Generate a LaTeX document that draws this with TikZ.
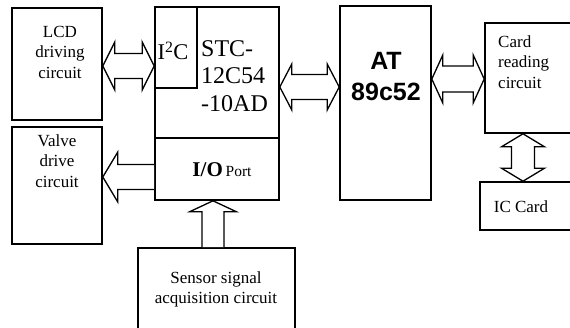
\documentclass[tikz,border=0pt]{standalone}
\usepackage{fontspec}
\setmainfont{Liberation Serif}
\setsansfont{Liberation Sans}
\usetikzlibrary{calc}

% hollow block arrows, given the two tips (or tail and tip)
% #3 shaft half width, #4 head half width, #5 head length
\newcommand{\blockdbl}[5]{%
  \draw[blockarrow] (#1)
    -- ($(#1)!#5!(#2)!#4!90:(#2)$) -- ($(#1)!#5!(#2)!#3!90:(#2)$)
    -- ($(#2)!#5!(#1)!#3!-90:(#1)$) -- ($(#2)!#5!(#1)!#4!-90:(#1)$)
    -- (#2)
    -- ($(#2)!#5!(#1)!#4!90:(#1)$) -- ($(#2)!#5!(#1)!#3!90:(#1)$)
    -- ($(#1)!#5!(#2)!#3!-90:(#2)$) -- ($(#1)!#5!(#2)!#4!-90:(#2)$)
    -- cycle;}
\newcommand{\blocksgl}[5]{%
  \draw[blockarrow] ($(#1)!#3!90:(#2)$)
    -- ($(#2)!#5!(#1)!#3!-90:(#1)$) -- ($(#2)!#5!(#1)!#4!-90:(#1)$)
    -- (#2)
    -- ($(#2)!#5!(#1)!#4!90:(#1)$) -- ($(#2)!#5!(#1)!#3!90:(#1)$)
    -- ($(#1)!#3!-90:(#2)$);}

\begin{document}
\begin{tikzpicture}[x=1pt,y=-1pt,
  box/.style={draw, line width=1.6pt, inner sep=0pt},
  txt/.style={font=\fontsize{17}{20.5}\selectfont, align=center, inner sep=0pt},
  blockarrow/.style={draw, line width=1.3pt, fill=white, line join=miter}]
\useasboundingbox (0,0) rectangle (570,327);
\clip (0,0) rectangle (570,327);
% left column
\node[box, minimum width=90pt, minimum height=112pt] (lcd) at (57,64) {};
\node[txt] (lcdtxt) at (60,52) {LCD\\driving\\circuit};
\node[box, minimum width=90pt, minimum height=117pt] (valve) at (57,185.5) {};
\node[txt] (valvetxt) at (57,161) {Valve\\drive\\circuit};
% STC chip with I2C and I/O parts
\node[box, minimum width=124pt, minimum height=131pt] (stc) at (217,72.5) {};
\node[box, minimum width=42pt, minimum height=81pt] (i2c) at (176,47.5) {};
\node[box, minimum width=124pt, minimum height=62pt] (io) at (217,169) {};
\node[txt, font=\fontsize{22.5}{27}\selectfont] (i2ctxt) at (173,51) {I\textsuperscript{2}C};
\node[txt, font=\fontsize{24}{27.5}\selectfont, align=left, anchor=west] (stctxt) at (201,76) {STC-\\12C54\\-10AD};
\node[txt, anchor=base] (iotxt) at (222,176) {{\fontsize{21}{24}\selectfont\bfseries I/O}\,{\fontsize{15.5}{18}\selectfont Port}};
% main controller
\node[box, minimum width=91pt, minimum height=194pt] (at) at (385.5,103) {};
\node[txt, font=\fontsize{25}{31}\sffamily\bfseries\selectfont] (attxt) at (386,76.5) {AT\\89c52};
% card side
\node[box, minimum width=115pt, minimum height=110pt] (card) at (542.5,78) {};
\node[txt, align=left, anchor=west] (cardtxt) at (498,62) {Card\\reading\\circuit};
\node[box, minimum width=120pt, minimum height=48pt] (ic) at (540,206) {};
\node[txt] (ictxt) at (521,207) {IC Card};
% sensor
\node[box, minimum width=157pt, minimum height=87pt] (sensor) at (216.5,291.5) {};
\node[txt] (sensortxt) at (216,289.5) {Sensor signal\\acquisition circuit};
% block arrows between the boxes
\blockdbl{lcd.east |- 0,66}{i2c.west |- 0,66}{12.5pt}{24pt}{12pt}
\blocksgl{io.west |- 0,177}{valve.east |- 0,177}{12.5pt}{25pt}{15pt}
\blockdbl{stc.east |- 0,87}{at.west |- 0,87}{12.5pt}{23pt}{12pt}
\blockdbl{at.east |- 0,79}{card.west |- 0,79}{13pt}{24pt}{11pt}
\blockdbl{card.south -| 523,0}{ic.north -| 523,0}{11.5pt}{21.5pt}{13pt}
\blocksgl{sensor.north -| 213,0}{io.south -| 213,0}{11pt}{23.5pt}{11pt}
\end{tikzpicture}
\end{document}
